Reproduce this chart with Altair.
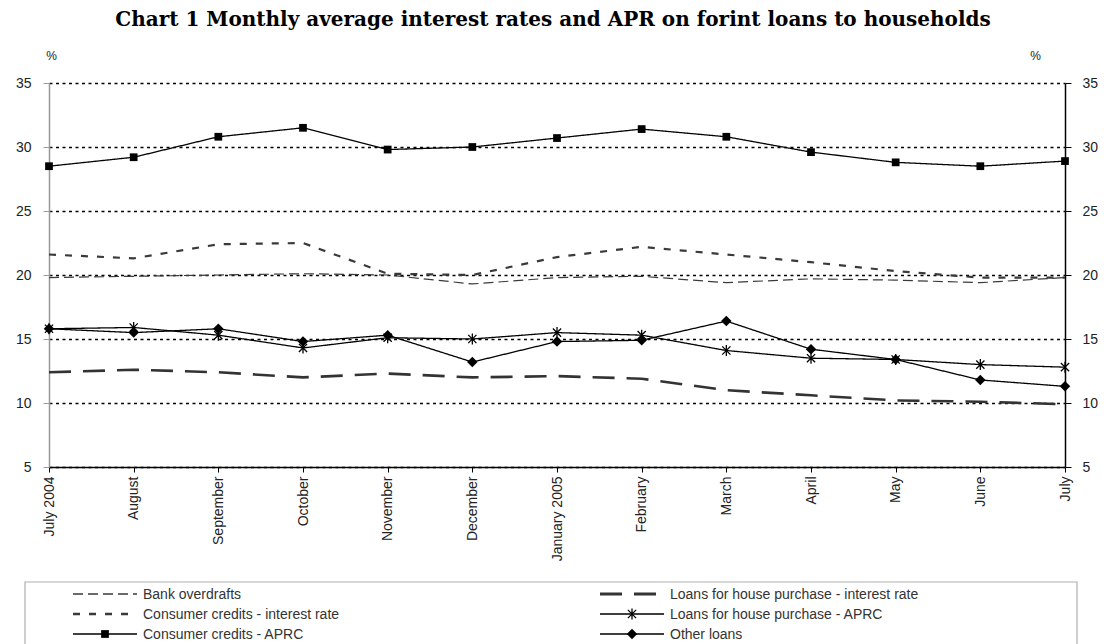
import altair as alt
import pandas as pd

# Monthly average rates, July 2004 - July 2005 (per cent)
months = ["July 2004", "August", "September", "October", "November", "December",
          "January 2005", "February", "March", "April", "May", "June", "July"]

bank_overdrafts = [19.8, 19.9, 20.0, 20.1, 20.0, 19.3, 19.8, 19.9, 19.4, 19.7, 19.6, 19.4, 19.8]
consumer_rate = [21.6, 21.3, 22.4, 22.5, 20.1, 20.0, 21.4, 22.2, 21.6, 21.0, 20.3, 19.8, 19.8]
consumer_aprc = [28.5, 29.2, 30.8, 31.5, 29.8, 30.0, 30.7, 31.4, 30.8, 29.6, 28.8, 28.5, 28.9]
house_rate = [12.4, 12.6, 12.4, 12.0, 12.3, 12.0, 12.1, 11.9, 11.0, 10.6, 10.2, 10.1, 9.9]
house_aprc = [15.8, 15.9, 15.3, 14.3, 15.1, 15.0, 15.5, 15.3, 14.1, 13.5, 13.4, 13.0, 12.8]
other_loans = [15.8, 15.5, 15.8, 14.8, 15.3, 13.2, 14.8, 14.9, 16.4, 14.2, 13.4, 11.8, 11.3]

series_names = [
    "Bank overdrafts",
    "Consumer credits - interest rate",
    "Consumer credits - APRC",
    "Loans for house purchase - interest rate",
    "Loans for house purchase - APRC",
    "Other loans",
]
series_values = [bank_overdrafts, consumer_rate, consumer_aprc, house_rate, house_aprc, other_loans]

title_text = "Chart 1 Monthly average interest rates and APR on forint loans to households"

y_ticks = [5, 10, 15, 20, 25, 30, 35]

ASTERISK = "M-0.75,-0.75L0.75,0.75M-0.75,0.75L0.75,-0.75M0,-1L0,1"

# line colour, width, dash pattern and marker for each series
styles = {
    "Bank overdrafts": dict(color="#3a3a3a", width=1.2, dash=[10, 5], marker=None),
    "Consumer credits - interest rate": dict(color="#3a3a3a", width=2.2, dash=[7, 9], marker=None),
    "Consumer credits - APRC": dict(color="black", width=1.3, dash=[1, 0], marker="square"),
    "Loans for house purchase - interest rate": dict(color="#333333", width=2.6, dash=[22, 12], marker=None),
    "Loans for house purchase - APRC": dict(color="black", width=1.3, dash=[1, 0], marker="asterisk"),
    "Other loans": dict(color="black", width=1.3, dash=[1, 0], marker="diamond"),
}

rows = []
for name, vals in zip(series_names, series_values):
    for m, v in zip(months, vals):
        rows.append({"series": name, "month": m, "value": v})
df = pd.DataFrame(rows)

FONT = "Liberation Sans"
TXT = "#222222"

x_scale = alt.Scale(type="point", domain=months, padding=0)
y_scale = alt.Scale(domain=[5, 35], nice=False, zero=False)

x_axis = alt.Axis(
    title=None, labelAngle=270, labelAlign="right", labelBaseline="middle",
    labelPadding=4, labelFontSize=14, labelFont=FONT, labelColor=TXT,
    domainColor="black", domainWidth=1.5, tickColor="black", tickSize=5,
    grid=False, labelOverlap=False,
)
left_axis = alt.Axis(
    title="%", titleAngle=0, titleX=2, titleY=-28, titleAlign="center",
    titleBaseline="middle", titleFontWeight="normal", titleFontSize=12,
    titleFont=FONT, titleColor=TXT,
    values=y_ticks, labelFontSize=14, labelFont=FONT, labelColor=TXT,
    labelPadding=12, tickSize=6, tickColor="#999999", domainColor="#999999",
    domainWidth=1.5, grid=True, gridColor="black", gridDash=[3, 3.5],
    gridWidth=1.6, gridOpacity=1,
)
right_axis = alt.Axis(
    orient="right", title="%", titleAngle=0, titleX=-30, titleY=-28,
    titleAlign="center", titleBaseline="middle", titleFontWeight="normal",
    titleFontSize=12, titleFont=FONT, titleColor=TXT,
    values=y_ticks, labelFontSize=14, labelFont=FONT, labelColor=TXT,
    labelPadding=11, tickSize=6, tickColor="black", domainColor="black",
    domainWidth=1.5, grid=False,
)

base = alt.Chart(df)
layers = []

# series lines
for i, name in enumerate(series_names):
    st = styles[name]
    yax = left_axis if i == 0 else None
    layers.append(
        base.transform_filter(alt.datum.series == name)
        .mark_line(color=st["color"], strokeWidth=st["width"], strokeDash=st["dash"])
        .encode(
            x=alt.X("month:N", scale=x_scale, axis=x_axis),
            y=alt.Y("value:Q", scale=y_scale, axis=yax),
        )
    )


def marker_props(kind):
    if kind == "square":
        return dict(shape="square", filled=True, color="black", size=60, opacity=1)
    if kind == "diamond":
        return dict(shape="diamond", filled=True, color="black", size=110, opacity=1)
    return dict(shape=ASTERISK, filled=False, color="black", strokeWidth=1.3, size=120, opacity=1)


# series markers
for name in series_names:
    kind = styles[name]["marker"]
    if kind is None:
        continue
    layers.append(
        base.transform_filter(alt.datum.series == name)
        .mark_point(**marker_props(kind))
        .encode(
            x=alt.X("month:N", scale=x_scale, axis=x_axis),
            y=alt.Y("value:Q", scale=y_scale, axis=None),
        )
    )

# right-hand axis
layers.append(
    base.mark_point(opacity=0).encode(
        x=alt.X("month:N", scale=x_scale, axis=x_axis),
        y=alt.Y("value:Q", scale=y_scale, axis=right_axis),
    )
)

# chart heading
layers.append(
    alt.Chart(pd.DataFrame({"label": [title_text]}))
    .mark_text(align="center", baseline="alphabetic", font="DejaVu Serif",
               fontSize=20, fontWeight="bold", color="black")
    .encode(x=alt.value(504), y=alt.value(-57), text="label:N")
)

# legend box below the plot
one = pd.DataFrame({"k": [0]})
layers.append(
    alt.Chart(one).mark_rect(fill="white", stroke="#b0b0b0", strokeWidth=1.2).encode(
        x=alt.value(-24), x2=alt.value(1028), y=alt.value(499), y2=alt.value(563)
    )
)

# legend entries: two columns of three
for i, name in enumerate(series_names):
    st = styles[name]
    col, row = divmod(i, 3)
    x0 = 24 + col * 527
    x1 = x0 + 64
    ly = 511 + row * 20
    layers.append(
        alt.Chart(one).mark_rule(color=st["color"], strokeWidth=st["width"] + 0.3, strokeDash=st["dash"])
        .encode(x=alt.value(x0), x2=alt.value(x1), y=alt.value(ly))
    )
    if st["marker"] is not None:
        layers.append(
            alt.Chart(one).mark_point(**marker_props(st["marker"]))
            .encode(x=alt.value((x0 + x1) / 2), y=alt.value(ly))
        )
    layers.append(
        alt.Chart(pd.DataFrame({"label": [name]}))
        .mark_text(align="left", baseline="middle", font=FONT, fontSize=14, color="#333333")
        .encode(x=alt.value(x1 + 6), y=alt.value(ly + 1), text="label:N")
    )

chart = (
    alt.layer(*layers)
    .resolve_axis(y="independent")
    .properties(
        width=1016,
        height=384,
        autosize="none",
        padding={"left": 49, "top": 83, "right": 41, "bottom": 177},
        background="white",
    )
    .configure_view(stroke=None)
)

chart.save("out.html", embed_options={"renderer": "svg", "actions": False})
